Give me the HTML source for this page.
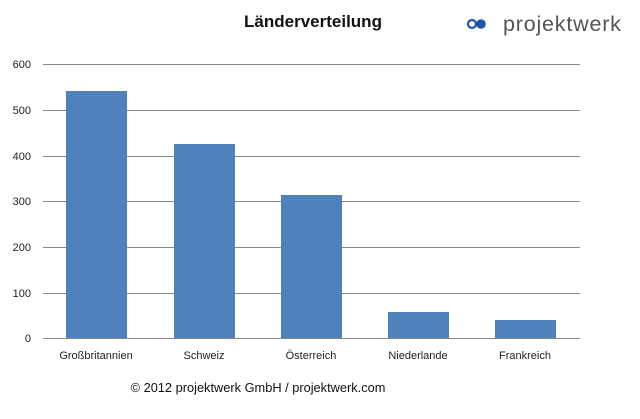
<!DOCTYPE html>
<html><head><style>
body{margin:0;background:#fff;width:640px;height:414px;overflow:hidden;font-family:"Liberation Sans",sans-serif}
</style></head><body>
<svg width="640" height="414" xmlns="http://www.w3.org/2000/svg" font-family="Liberation Sans, sans-serif">
<text x="313" y="27" font-size="17" font-weight="bold" text-anchor="middle" fill="#111">Länderverteilung</text>
<circle cx="472" cy="24" r="4" fill="none" stroke="#1f56a8" stroke-width="2.2"/>
<circle cx="481" cy="24" r="4.8" fill="#1f56a8"/>
<text x="503" y="31" font-size="21.5" fill="#555" letter-spacing="0.8">projektwerk</text>
<g stroke="#888" stroke-width="1">
<line x1="43" y1="64.5" x2="580" y2="64.5"/>
<line x1="43" y1="110.5" x2="580" y2="110.5"/>
<line x1="43" y1="156.5" x2="580" y2="156.5"/>
<line x1="43" y1="201.5" x2="580" y2="201.5"/>
<line x1="43" y1="247.5" x2="580" y2="247.5"/>
<line x1="43" y1="293.5" x2="580" y2="293.5"/>
<line x1="43" y1="338.5" x2="580" y2="338.5"/>
</g>
<g font-size="11" fill="#222" text-anchor="end">
<text x="31" y="68">600</text><text x="31" y="114">500</text><text x="31" y="160">400</text>
<text x="31" y="205">300</text><text x="31" y="251">200</text><text x="31" y="297">100</text><text x="31" y="342">0</text>
</g>
<g fill="#4f81bd">
<rect x="66" y="91" width="61" height="247"/>
<rect x="174" y="144" width="61" height="194"/>
<rect x="281" y="195" width="61" height="143"/>
<rect x="388" y="312" width="61" height="26"/>
<rect x="495" y="320" width="61" height="18"/>
</g>
<g font-size="11" fill="#222" text-anchor="middle">
<text x="96" y="359">Großbritannien</text><text x="204" y="359">Schweiz</text>
<text x="311" y="359">Österreich</text><text x="418" y="359">Niederlande</text><text x="525" y="359">Frankreich</text>
</g>
<text x="258" y="392" font-size="12.8" fill="#111" text-anchor="middle">© 2012 projektwerk GmbH / projektwerk.com</text>
</svg>
</body></html>
